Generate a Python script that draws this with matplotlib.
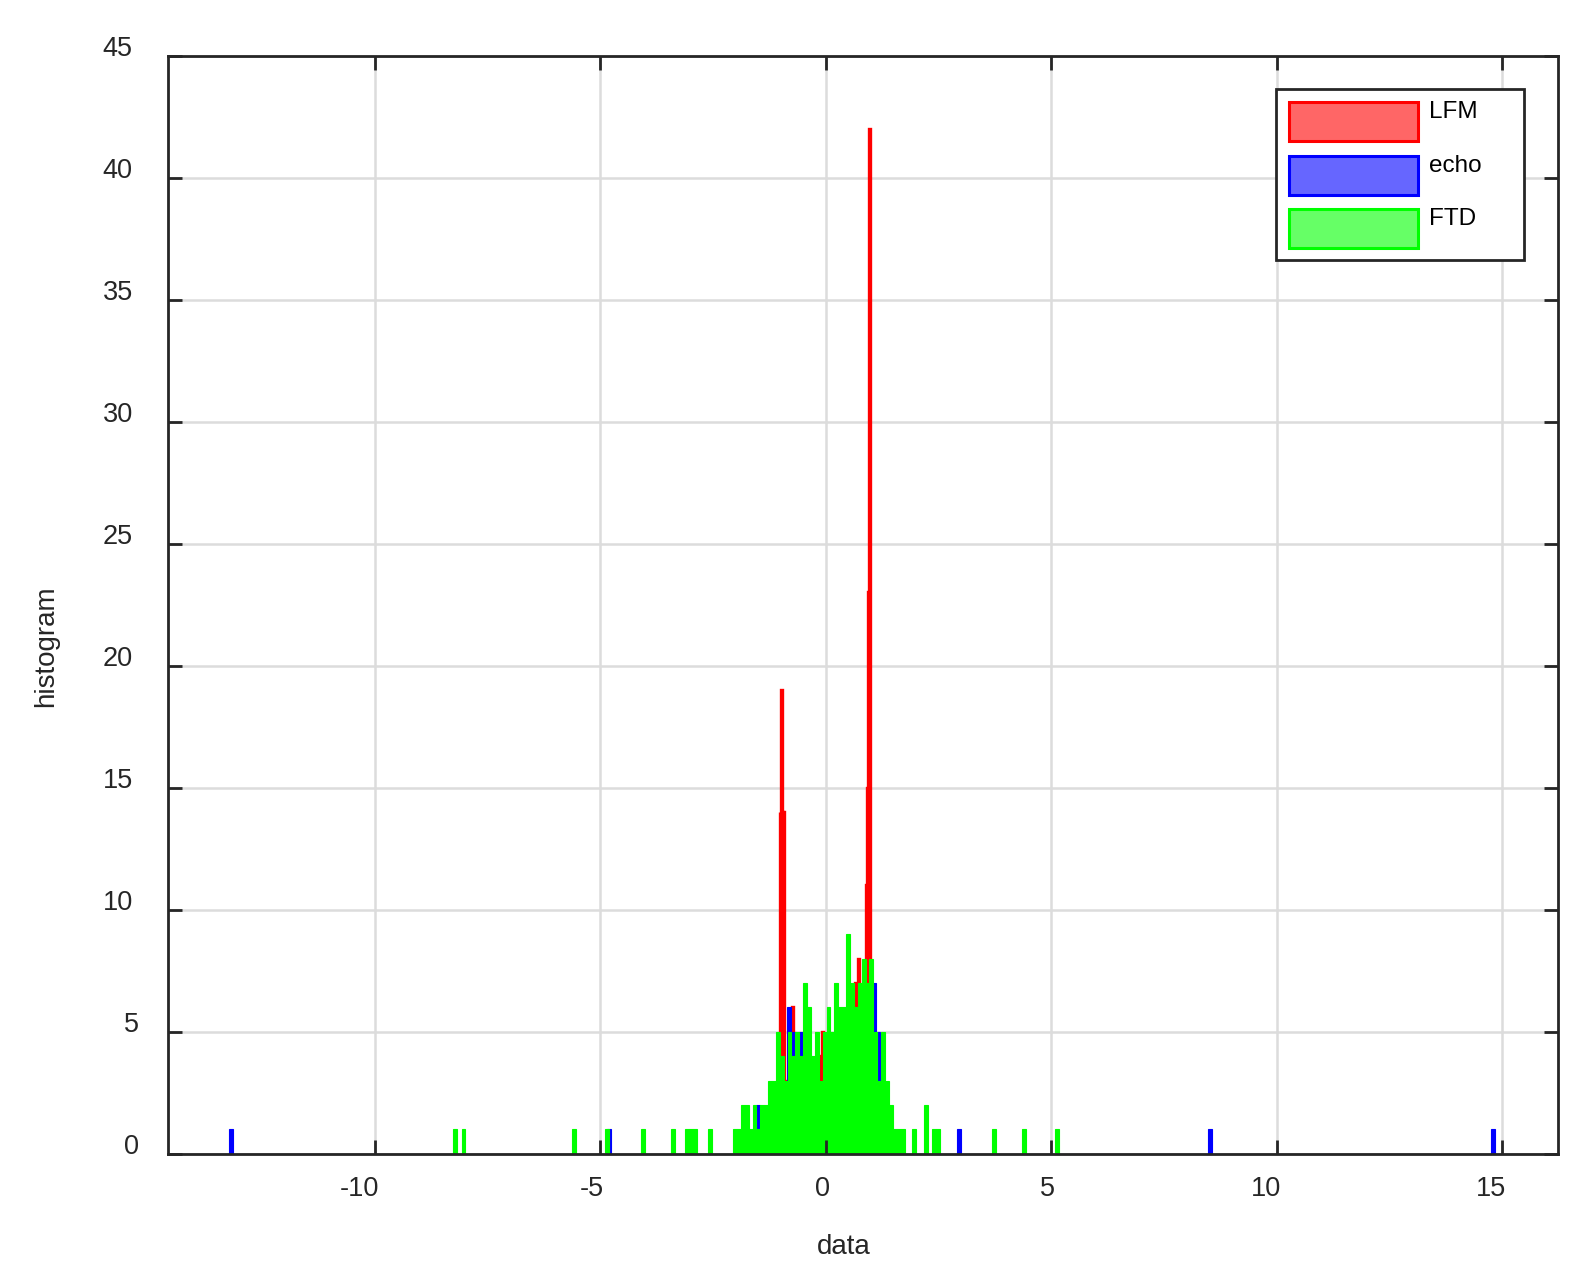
import matplotlib.pyplot as plt
import matplotlib.transforms as mtransforms
from matplotlib.patches import Rectangle

plt.rcParams['font.family'] = ['Liberation Sans', 'DejaVu Sans']
plt.rcParams['axes.unicode_minus'] = False

# ---- histogram bins (bin centre, count) ----
lfm_x = [-1.013, -0.990, -0.968, -0.946, -0.900, -0.800, -0.725, -0.600, -0.500,
         -0.370, -0.300, -0.200, -0.126, -0.071, 0.000, 0.100, 0.300, 0.400,
         0.538, 0.600, 0.671, 0.737, 0.800, 0.915, 0.937, 0.959, 0.982, 1.050]
lfm_n = [14, 19, 14, 14, 3, 4, 6, 3, 4,
         6, 3, 2, 4, 5, 3, 2, 3, 4,
         5, 3, 7, 8, 5, 11, 15, 23, 42, 3]

echo_x = [-13.18, -4.80, -1.50, -1.35, -1.20, -1.00, -0.813, -0.702, -0.547,
          -0.40, -0.20, 0.00, 0.20, 0.40, 0.60, 0.80, 1.00, 1.081, 1.159,
          2.95, 8.52, 14.80]
echo_n = [1, 1, 2, 1, 2, 3, 6, 5, 5,
          3, 4, 3, 4, 5, 4, 5, 4, 7, 5,
          1, 1, 1]

ftd_x = [-8.22, -8.03, -5.58, -4.85, -4.05, -3.39, -3.077, -2.990, -2.903, -2.565,
         -2.011, -1.925, -1.838, -1.752, -1.665, -1.579, -1.493, -1.406, -1.320, -1.234,
         -1.147, -1.061, -0.974, -0.888, -0.802, -0.715, -0.629, -0.542, -0.456, -0.370,
         -0.283, -0.197, -0.110, -0.024, 0.062, 0.149, 0.235, 0.322, 0.408, 0.494,
         0.581, 0.667, 0.754, 0.840, 0.926, 1.013, 1.099, 1.186, 1.272, 1.358,
         1.445, 1.531, 1.618, 1.704, 1.963, 2.222, 2.395, 2.482, 3.73, 4.40, 5.13]
ftd_n = [1, 1, 1, 1, 1, 1, 1, 1, 1, 1,
         1, 1, 2, 2, 1, 2, 1, 2, 2, 3,
         3, 5, 4, 3, 5, 4, 5, 4, 7, 6,
         4, 5, 3, 5, 6, 5, 7, 6, 6, 9,
         7, 6, 7, 8, 7, 8, 5, 3, 5, 3,
         2, 1, 1, 1, 1, 2, 1, 1, 1, 1, 1]

labels = ['LFM', 'echo', 'FTD']
colors = ['#ff0000', '#0000ff', '#00ff00']
light = ['#ff6666', '#6666ff', '#66ff66']

x_ticks = [-10, -5, 0, 5, 10, 15]
y_ticks = [0, 5, 10, 15, 20, 25, 30, 35, 40, 45]

dark = '#262626'
grid_c = '#dcdcdc'

fig = plt.figure(figsize=(15.83, 12.79), dpi=100)
ax = fig.add_axes([0.10587, 0.09787, 0.98406 - 0.10587, 0.95659 - 0.09787])

# grid drawn by hand so it sits under the bars while ticks stay on top
for xt in x_ticks:
    ax.axvline(xt, color=grid_c, linewidth=1.8, zorder=0.5)
for yt in y_ticks:
    ax.axhline(yt, color=grid_c, linewidth=1.8, zorder=0.5)

ax.bar(lfm_x, lfm_n, width=0.022, color=colors[0], edgecolor=colors[0], linewidth=2.4, zorder=1)
ax.bar(echo_x, echo_n, width=0.0864, color=colors[1], edgecolor=colors[1], linewidth=0.8, zorder=1.1)
ax.bar(ftd_x, ftd_n, width=0.0864, color=colors[2], edgecolor=colors[2], linewidth=0.8, zorder=1.2)

ax.set_xlim(-14.59, 16.23)
ax.set_ylim(0, 45)
ax.set_xticks(x_ticks)
ax.set_yticks(y_ticks)
ax.set_axisbelow(False)

ax.tick_params(direction='in', length=10, width=2, top=True, right=True,
               labelsize=19.5, color=dark, labelcolor=dark)
ax.tick_params(axis='x', pad=16)
ax.tick_params(axis='y', pad=25)
for sp in ax.spines.values():
    sp.set_linewidth(2)
    sp.set_color(dark)

off = mtransforms.ScaledTranslation(4 / 100, 0, fig.dpi_scale_trans)
for lab in ax.get_xticklabels():
    lab.set_horizontalalignment('right')
    lab.set_transform(lab.get_transform() + off)
# single digit y labels sit a bit further right in the original
off_y = mtransforms.ScaledTranslation(6 / 100, 0, fig.dpi_scale_trans)
for yt, lab in zip(y_ticks, ax.get_yticklabels()):
    lab.set_verticalalignment('baseline')
    if yt < 10:
        lab.set_transform(lab.get_transform() + off_y)

fig.text(836 / 1568, 1 - 1235 / 1267, 'data', fontsize=20, color=dark, ha='center', va='center')
fig.text(46 / 1568, 1 - 640 / 1267, 'histogram', fontsize=20, color=dark, ha='center',
         va='center', rotation=90)

# legend box
box = Rectangle((1264 / 1568, 1 - 258 / 1267), (1510 - 1264) / 1568, (258 - 88) / 1267,
                transform=fig.transFigure, facecolor='white', edgecolor=dark, linewidth=2, zorder=5)
fig.add_artist(box)
rows = [(101, 140), (155, 193), (207, 246)]
for (top, bot), lab, c, lc in zip(rows, labels, colors, light):
    r = Rectangle((1277 / 1568, 1 - bot / 1267), (1405 - 1277) / 1568, (bot - top) / 1267,
                  transform=fig.transFigure, facecolor=lc, edgecolor=c, linewidth=2.2, zorder=6)
    fig.add_artist(r)
    fig.text(1415 / 1568, 1 - (top - 1) / 1267, lab, fontsize=17.5, color='black',
             ha='left', va='top', zorder=7)

fig.savefig('out.png', dpi=100)
